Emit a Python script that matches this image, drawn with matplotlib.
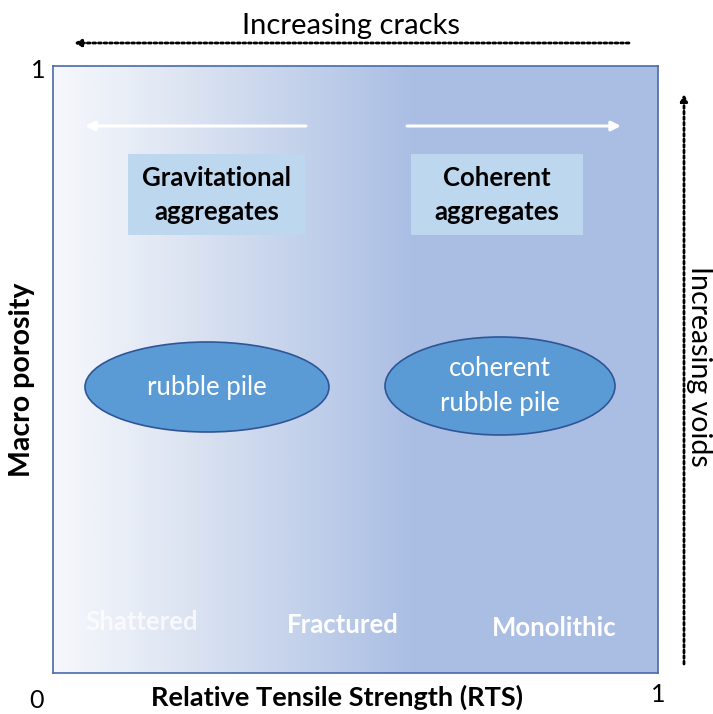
import numpy as np
import matplotlib
matplotlib.use("Agg")
import matplotlib.pyplot as plt
from matplotlib.patches import Ellipse, Rectangle
from matplotlib.colors import LinearSegmentedColormap

plt.rcParams['font.family'] = ['Lato', 'DejaVu Sans']

# ---- content ----
x_label = "Relative Tensile Strength (RTS)"
y_label = "Macro porosity"
tick_min = "0"
tick_max = "1"
top_note = "Increasing cracks"
right_note = "Increasing voids"
group_labels = ["Gravitational\naggregates", "Coherent\naggregates"]
body_labels = ["rubble pile", "coherent\nrubble pile"]
strength_classes = ["Shattered", "Fractured", "Monolithic"]

W, H = 713, 714
fig = plt.figure(figsize=(W / 100, H / 100), dpi=100)

# overlay axes in pixel coords of the whole figure
ov = fig.add_axes([0, 0, 1, 1])
ov.set_xlim(0, W)
ov.set_ylim(H, 0)
ov.axis('off')

# main frame
L, R, T, B = 53, 658, 66, 673
ax = fig.add_axes([L / W, 1 - B / H, (R - L) / W, (B - T) / H])
ax.set_xlim(0, 1)
ax.set_ylim(0, 1)
ax.set_xticks([])
ax.set_yticks([])
for s in ax.spines.values():
    s.set_color('#4a6aa8')
    s.set_linewidth(1.2)

cmap = LinearSegmentedColormap.from_list(
    'g', [(0.0, '#f6f8fc'), (0.2, '#dfe6f3'), (0.59, '#abbfe4'), (1.0, '#aabee4')])
grad = np.linspace(0, 1, 512)[None, :]
ax.imshow(grad, extent=[0, 1, 0, 1], aspect='auto', cmap=cmap, zorder=0)

ov.set_zorder(2)
ax.set_zorder(1)

# white arrows inside
ov.annotate('', xy=(85, 126), xytext=(306, 126),
            arrowprops=dict(arrowstyle='-|>', color='white', lw=2.2,
                            mutation_scale=14, shrinkA=0, shrinkB=0))
ov.annotate('', xy=(621, 126), xytext=(407, 126),
            arrowprops=dict(arrowstyle='-|>', color='white', lw=2.2,
                            mutation_scale=14, shrinkA=0, shrinkB=0))

# label boxes
for (x0, x1), lab in zip([(128, 305), (411, 583)], group_labels):
    ov.add_patch(Rectangle((x0, 154), x1 - x0, 81, facecolor='#bdd7ee',
                           edgecolor='none'))
    ov.text((x0 + x1) / 2, 195, lab, ha='center', va='center',
            fontsize=18.5, fontweight='bold', color='black', linespacing=1.5)

# ellipses
for (cx, cy, w, h), lab in zip([(207, 387, 244, 90), (500, 386, 230, 98)],
                               body_labels):
    ov.add_patch(Ellipse((cx, cy), w, h, facecolor='#5b9bd5',
                         edgecolor='#2f5597', lw=1.2))
    ov.text(cx, cy, lab, ha='center', va='center', fontsize=18.5,
            color='white', linespacing=1.5)

# strength classes
for (x, y, a), lab in zip([(142, 622, 0.75), (343, 625, 1.0), (554, 628, 1.0)],
                          strength_classes):
    ov.text(x, y, lab, ha='center', va='center', fontsize=18.5,
            fontweight='bold', color='white', alpha=a)

# dotted arrows outside
ov.annotate('', xy=(74, 43), xytext=(629, 43),
            arrowprops=dict(arrowstyle='-|>', color='black', lw=2,
                            linestyle=(0, (1, 1)), mutation_scale=10,
                            shrinkA=0, shrinkB=0))
ov.annotate('', xy=(684, 94), xytext=(684, 664),
            arrowprops=dict(arrowstyle='-|>', color='black', lw=2,
                            linestyle=(0, (1, 1)), mutation_scale=10,
                            shrinkA=0, shrinkB=0))

ov.text(351, 26, top_note, ha='center', va='center', fontsize=21)
ov.text(699, 366, right_note, ha='center', va='center', fontsize=20.5,
        rotation=-90)

ov.text(337, 697, x_label, ha='center', va='center', fontsize=19.5,
        fontweight='bold')
ov.text(22, 380, y_label, ha='center', va='center', fontsize=20.5,
        fontweight='bold', rotation=90)

ov.text(36, 700, tick_min, ha='center', va='center', fontsize=18)
ov.text(658, 694, tick_max, ha='center', va='center', fontsize=18)
ov.text(38, 71, tick_max, ha='center', va='center', fontsize=18)

fig.savefig('out.png', dpi=100)
